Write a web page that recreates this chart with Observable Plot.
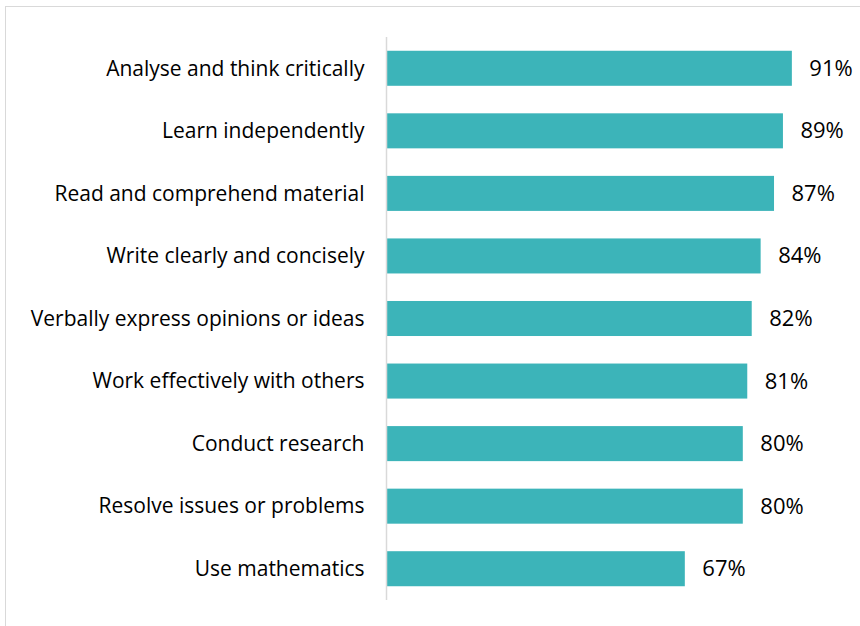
<!DOCTYPE html>
<html><head><meta charset="utf-8">
<script src="https://cdn.jsdelivr.net/npm/d3@7"></script>
<script src="https://cdn.jsdelivr.net/npm/@observablehq/plot@0.6"></script>
<style>
html,body{margin:0;padding:0;background:#fff;}
#wrap{position:relative;width:860px;height:626px;overflow:hidden;}
#frame{position:absolute;left:5px;top:6px;width:900px;height:700px;border:1.5px solid #d9d9d9;box-sizing:border-box;}
#chart{position:absolute;left:0;top:0;}
</style></head>
<body><div id="wrap"><div id="frame"></div><div id="chart"></div></div>
<script>
const skills = ["Analyse and think critically","Learn independently","Read and comprehend material","Write clearly and concisely","Verbally express opinions or ideas","Work effectively with others","Conduct research","Resolve issues or problems","Use mathematics"];
const values = [91,89,87,84,82,81,80,80,67];
const data = skills.map((s,i)=>({skill:s, value:values[i]}));
const chart = Plot.plot({
  width:860, height:626,
  marginLeft:386, marginRight:28, marginTop:37, marginBottom:26,
  style:{fontFamily:"'Open Sans', sans-serif", background:"transparent"},
  x:{domain:[0,100], axis:null},
  y:{domain:skills, paddingInner:0.44, paddingOuter:0.22, round:false, label:null},
  marks:[
    Plot.axisY({tickSize:0, tickPadding:22, fontSize:21, fill:"#000", label:null}),
    Plot.barX(data,{x:"value", y:"skill", fill:"#3CB4B9"}),
    Plot.ruleX([0],{stroke:"#d9d9d9", strokeWidth:1.5}),
    Plot.text(data,{x:"value", y:"skill", text:d=>d.value+"%", textAnchor:"start", dx:17, fontSize:22, fill:"#000"})
  ]
});
document.getElementById("chart").appendChild(chart);
</script></body></html>
